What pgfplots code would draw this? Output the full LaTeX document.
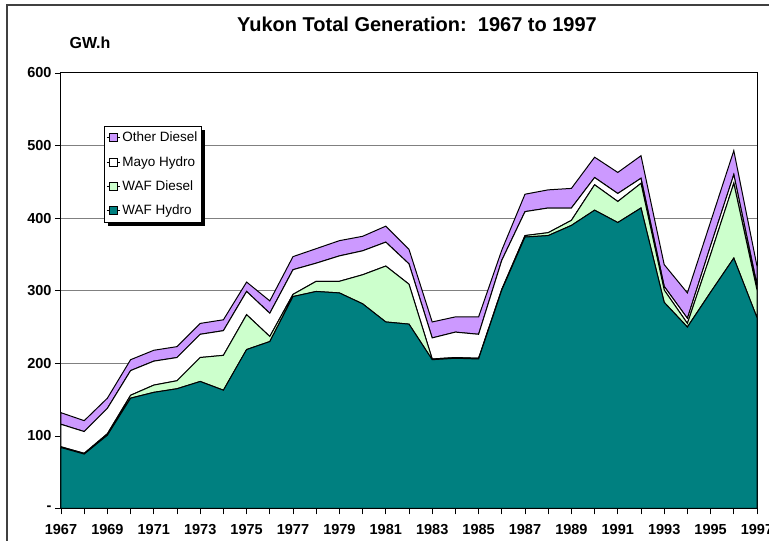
\documentclass[border=0pt]{standalone}
\usepackage{pgfplots}
\pgfplotsset{compat=1.18}
\usepackage{pgfplotstable}
\usepackage{fontspec}
\setmainfont{Liberation Sans}
\usetikzlibrary{shadows}
\makeatletter
\tikzset{no preaction/.code={\let\tikz@preactions\pgfutil@empty}}
\makeatother
\definecolor{wafhydro}{HTML}{008080}
\definecolor{wafdiesel}{HTML}{CCFFCC}
\definecolor{otherdiesel}{HTML}{CC99FF}
\definecolor{framegray}{HTML}{404040}
% increments: WAF Hydro, WAF Diesel, Mayo Hydro, Other Diesel
\pgfplotstableread{
year wafh wafd mayo other
1967 84 1 31 16
1968 75 1 30 15
1969 101 2 35 14
1970 152 4 34 15
1971 160 10 33 15
1972 165 11 32 15
1973 175 33 32 15
1974 163 48 34 15
1975 219 48 32 13
1976 230 7 32 17
1977 292 3 34 18
1978 299 14 25 20
1979 297 16 35 21
1980 282 40 33 20
1981 257 77 33 22
1982 254 55 28 20
1983 205 1 29 22
1984 207 1 35 21
1985 206 1 33 24
1986 301 1 40 14
1987 374 2 33 24
1988 376 4 34 25
1989 390 7 17 27
1990 411 35 10 28
1991 394 29 11 29
1992 414 34 7 31
1993 284 17 5 30
1994 250 5 7 35
1995 298 52 12 33
1996 345 103 12 33
1997 263 38 7 26
}\gendata
\begin{document}
\begin{tikzpicture}[x=1pt,y=1pt]
\useasboundingbox (0,0) rectangle (769,541);
\draw[framegray, line width=2pt] (7,-2) -- (7,535.5) -- (775,535.5);
\node[font=\bfseries\fontsize{20}{24}\selectfont] at (417,516.5) {Yukon Total Generation:\ \ 1967 to 1997};
\node[font=\bfseries\fontsize{16}{19}\selectfont] at (90,498.5) {GW.h};
\begin{axis}[
  at={(61pt,32.5pt)}, anchor=south west,
  scale only axis, width=696pt, height=435.5pt,
  xmin=1967, xmax=1997, ymin=0, ymax=600,
  stack plots=y,
  axis line style={black, line width=1pt},
  xtick={1967,1969,...,1997},
  xticklabels={1967,1969,1971,1973,1975,1977,1979,1981,1983,1985,1987,1989,1991,1993,1995,1997},
  minor xtick={1968,1970,...,1996},
  ytick={0,100,...,600},
  yticklabels={-,100,200,300,400,500,600},
  tick align=outside,
  major tick length=6pt, minor tick length=6pt,
  xtick pos=bottom, ytick pos=left,
  tick style={black, line width=0.8pt},
  ticklabel style={font=\bfseries\fontsize{14.5}{17}\selectfont},
  xticklabel style={yshift=-6pt},
  ymajorgrids,
  major grid style={gray, line width=1pt},
  legend cell align=left,
  reverse legend,
  legend image code/.code={\path[no preaction] (0pt,0pt) -- (13pt,0pt);
    \draw[no preaction, #1, draw=black, line width=0.6pt] (2pt,-4pt) rectangle (10pt,4pt);},
  legend style={at={(0.0618,0.879)}, anchor=north west, draw=black, fill=white,
    line width=0.8pt,
    font=\fontsize{13.5}{16}\selectfont, row sep=9pt, inner xsep=2pt, inner ysep=4pt,
    drop shadow={shadow xshift=3.5pt, shadow yshift=-3.5pt, fill=black, opacity=1}},
]
\addplot[fill=wafhydro, draw=black, line width=1pt] table[x=year,y=wafh]{\gendata} \closedcycle;
\addlegendentry{WAF Hydro}
\addplot[fill=wafdiesel, draw=black, line width=1pt] table[x=year,y=wafd]{\gendata} \closedcycle;
\addlegendentry{WAF Diesel}
\addplot[fill=white, draw=black, line width=1pt] table[x=year,y=mayo]{\gendata} \closedcycle;
\addlegendentry{Mayo Hydro}
\addplot[fill=otherdiesel, draw=black, line width=1pt] table[x=year,y=other]{\gendata} \closedcycle;
\addlegendentry{Other Diesel}
\end{axis}
\end{tikzpicture}
\end{document}
